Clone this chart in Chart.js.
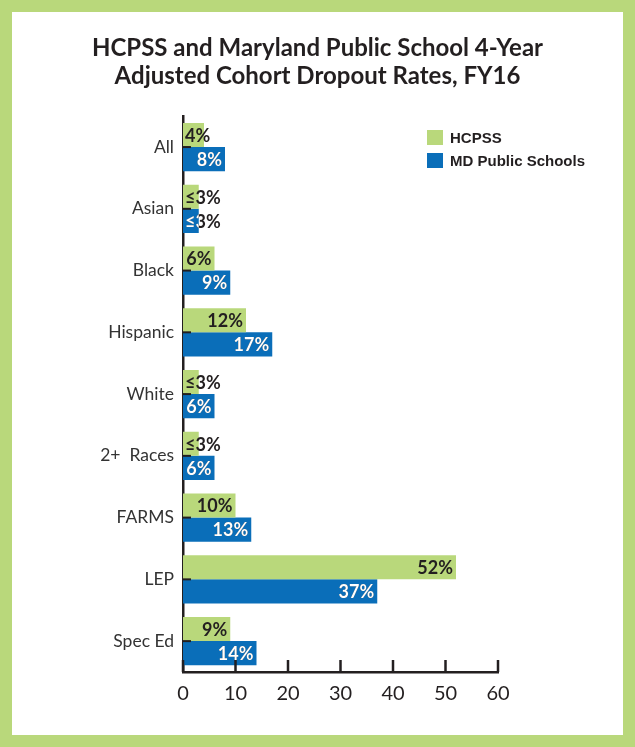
<!DOCTYPE html>
<html>
<head>
<meta charset="utf-8">
<script src="https://cdn.jsdelivr.net/npm/chart.js@4/dist/chart.umd.min.js"></script>
<style>
  body { margin: 0; }
  #frame { position: relative; width: 635px; height: 747px; background: #b9d87b; }
  #inner { position: absolute; left: 12px; top: 12px; right: 12px; bottom: 12px; background: #fff; }
  #grafico { position: absolute; left: 0; top: 0; }
  .legenda { position: absolute; left: 427px; font: bold 15px "Liberation Sans", Arial, sans-serif; color: #231f20; line-height: 15px; }
  .legenda span { display: inline-block; width: 16px; height: 15px; vertical-align: top; margin-right: 7px; }
</style>
</head>
<body>
<div id="frame">
  <div id="inner"></div>
  <canvas id="grafico" width="635" height="747"></canvas>
  <div class="legenda" style="top:130px"><span style="background:#b9d87b"></span>HCPSS</div>
  <div class="legenda" style="top:153px"><span style="background:#0a6eb9"></span>MD Public Schools</div>
</div>
<script>
// categorias e valores (%)
const categorias = ['All', 'Asian', 'Black', 'Hispanic', 'White', '2+  Races', 'FARMS', 'LEP', 'Spec Ed'];
const hcpss = [4, 3, 6, 12, 3, 3, 10, 52, 9];
const mdPublic = [8, 3, 9, 17, 6, 6, 13, 37, 14];
const rotulosHcpss = ['4%', '≤3%', '6%', '12%', '≤3%', '≤3%', '10%', '52%', '9%'];
const rotulosMd = ['8%', '≤3%', '9%', '17%', '6%', '6%', '13%', '37%', '14%'];
const ticksX = [0, 10, 20, 30, 40, 50, 60];

const verde = '#b9d87b';
const azul = '#0a6eb9';
const escuro = '#231f20';

// marcas dos eixos viradas para dentro + rótulos nas barras
const extras = {
    id: 'extras',
    afterDatasetsDraw(chart) {
        const ctx = chart.ctx;
        const area = chart.chartArea;
        const x = chart.scales.x, y = chart.scales.y;
        ctx.save();
        ctx.strokeStyle = escuro;
        ctx.lineWidth = 2.5;
        ticksX.forEach(v => {
            const px = x.getPixelForValue(v);
            ctx.beginPath();
            ctx.moveTo(px, area.bottom);
            ctx.lineTo(px, area.bottom - 12);
            ctx.stroke();
        });
        ctx.lineWidth = 2;
        categorias.forEach((c, i) => {
            const py = y.getPixelForValue(i);
            ctx.beginPath();
            ctx.moveTo(area.left, py);
            ctx.lineTo(area.left + 8, py);
            ctx.stroke();
        });

        ctx.font = 'bold 18px Lato, sans-serif';
        ctx.textBaseline = 'middle';
        ctx.textAlign = 'left';
        const rotulos = [rotulosHcpss, rotulosMd];
        chart.data.datasets.forEach((ds, d) => {
            chart.getDatasetMeta(d).data.forEach((bar, i) => {
                const txt = rotulos[d][i];
                const w = ctx.measureText(txt).width;
                let tx = bar.x - 3 - w;
                if (tx < bar.base + 2) tx = bar.base + 2;
                const ty = bar.y + 1;
                ctx.fillStyle = escuro;
                ctx.fillText(txt, tx, ty);
                if (d === 1) {
                    // parte do texto sobre a barra azul fica branca
                    ctx.save();
                    ctx.beginPath();
                    ctx.rect(bar.base, bar.y - bar.height / 2, bar.x - bar.base, bar.height);
                    ctx.clip();
                    ctx.fillStyle = '#fff';
                    ctx.fillText(txt, tx, ty);
                    ctx.restore();
                }
            });
        });
        ctx.restore();
    }
};

new Chart(document.getElementById('grafico'), {
    type: 'bar',
    data: {
        labels: categorias,
        datasets: [
            { label: 'HCPSS', data: hcpss, backgroundColor: verde },
            { label: 'MD Public Schools', data: mdPublic, backgroundColor: azul }
        ]
    },
    options: {
        indexAxis: 'y',
        responsive: false,
        animation: false,
        layout: { padding: 0 },
        datasets: { bar: { categoryPercentage: 0.78, barPercentage: 1 } },
        plugins: {
            legend: { display: false },
            tooltip: { enabled: false },
            title: {
                display: true,
                text: ['HCPSS and Maryland Public School 4-Year', 'Adjusted Cohort Dropout Rates, FY16'],
                color: escuro,
                font: { family: 'Lato, sans-serif', size: 24, weight: 'bold', lineHeight: 1.17 },
                padding: { top: 34, bottom: 26 }
            }
        },
        scales: {
            x: {
                min: 0,
                max: 60,
                afterFit(scale) { scale.height = 75; },
                afterBuildTicks(scale) { scale.ticks = ticksX.map(v => ({ value: v })); },
                grid: { display: false, drawTicks: false },
                border: { display: true, color: escuro, width: 2.5 },
                ticks: { color: escuro, padding: 10, font: { family: 'Lato, sans-serif', size: 20 } }
            },
            y: {
                afterFit(scale) { scale.width = 183; },
                grid: { display: false, drawTicks: false },
                border: { display: true, color: escuro, width: 2.5 },
                ticks: { color: '#333', padding: 9, font: { family: 'Lato, sans-serif', size: 17.5 } }
            },
            // eixo vazio à direita só para reservar espaço
            direita: {
                type: 'category',
                position: 'right',
                afterFit(scale) { scale.width = 137; },
                grid: { display: false, drawTicks: false },
                border: { display: false },
                ticks: { display: false }
            }
        }
    },
    plugins: [extras]
});
</script>
</body>
</html>
